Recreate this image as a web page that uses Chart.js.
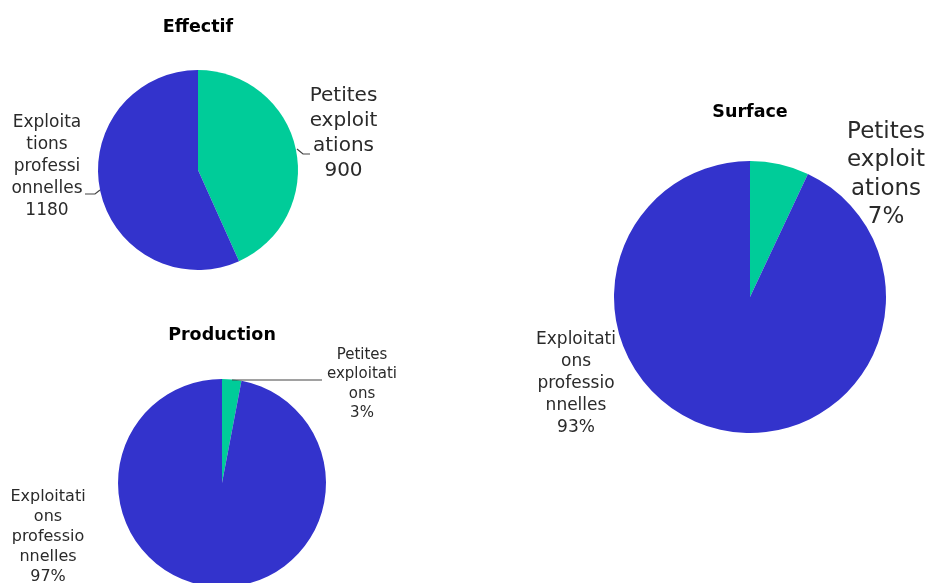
<!DOCTYPE html>
<html>
<head>
<meta charset="utf-8">
<script src="https://cdn.jsdelivr.net/npm/chart.js@4"></script>
<style>
  html, body { margin: 0; padding: 0; background: #fff; overflow: hidden; }
  #wrap { position: relative; width: 930px; height: 583px; overflow: hidden; }
  .box { position: absolute; left: 0; top: 0; width: 930px; }
</style>
</head>
<body>
<div id="wrap">
  <div class="box" style="height:583px"><canvas id="c1"></canvas></div>
  <div class="box" style="height:583px"><canvas id="c2"></canvas></div>
  <div class="box" style="height:620px"><canvas id="c3"></canvas></div>
</div>
<script>
// ---- data ----
const categories = ['Petites exploitations', 'Exploitations professionnelles'];
const effectifValues = [900, 1180];
const surfaceValues = [7, 93];
const productionValues = [3, 97];
const chartTitles = ['Effectif', 'Surface', 'Production'];
const effectifLabelLines = [['Petites', 'exploit', 'ations', '900'], ['Exploita', 'tions', 'professi', 'onnelles', '1180']];
const surfaceLabelLines = [['Petites', 'exploit', 'ations', '7%'], ['Exploitati', 'ons', 'professio', 'nnelles', '93%']];
const productionLabelLines = [['Petites', 'exploitati', 'ons', '3%'], ['Exploitati', 'ons', 'professio', 'nnelles', '97%']];
const colors = ['rgb(0,204,153)', 'rgb(51,51,204)'];

const FONT = "'DejaVu Sans', Verdana, sans-serif";

// label plugin: draws wrapped labels and leader lines relative to pie centre
const pieLabels = {
  id: 'pieLabels',
  afterDatasetsDraw(chart, args, opts) {
    const arc = chart.getDatasetMeta(0).data[0];
    if (!arc) return;
    const cx = arc.x, cy = arc.y;
    const ctx = chart.ctx;
    ctx.save();
    (opts.items || []).forEach(it => {
      if (it.leader) {
        ctx.beginPath();
        ctx.strokeStyle = '#444';
        ctx.lineWidth = 1.2;
        it.leader.forEach((p, i) => {
          if (i === 0) ctx.moveTo(cx + p[0], cy + p[1]); else ctx.lineTo(cx + p[0], cy + p[1]);
        });
        ctx.stroke();
      }
      ctx.fillStyle = '#2a2a2a';
      ctx.font = it.size + 'px ' + FONT;
      ctx.textAlign = 'center';
      ctx.textBaseline = 'middle';
      it.lines.forEach((ln, i) => {
        ctx.fillText(ln, cx + it.dx, cy + it.dy + i * it.spacing);
      });
    });
    ctx.restore();
  }
};

function makePie(id, title, values, labelLines, layoutPad, titlePad, items) {
  return new Chart(document.getElementById(id), {
    type: 'pie',
    data: {
      labels: categories,
      datasets: [{
        data: values,
        backgroundColor: colors,
        borderWidth: 0,
        hoverBorderWidth: 0,
        offset: 0,
        hoverOffset: 0
      }]
    },
    options: {
      responsive: true,
      maintainAspectRatio: false,
      animation: false,
      events: [],
      layout: { padding: layoutPad },
      plugins: {
        legend: { display: false },
        tooltip: { enabled: false },
        title: {
          display: true,
          text: title,
          color: '#000',
          font: { family: FONT, size: 17.5, weight: 'bold', lineHeight: 1.2 },
          padding: titlePad
        },
        pieLabels: { items: items.map((it, k) => Object.assign({ lines: labelLines[k] }, it)) }
      }
    },
    plugins: [pieLabels]
  });
}

// Effectif: centre (198,170), r 100
makePie('c1', chartTitles[0], effectifValues, effectifLabelLines,
  { left: 98, right: 632, top: 0, bottom: 313 },
  { top: 16.5, bottom: 32.5 },
  [
    { dx: 145.5, dy: -74, spacing: 25, size: 20, leader: [[99, -21], [105, -16], [112, -16]] },
    { dx: -151, dy: -47, spacing: 22, size: 17, leader: [[-113, 24], [-103, 24], [-98, 20]] }
  ]);

// Surface: centre (750,297), r 136
makePie('c2', chartTitles[1], surfaceValues, surfaceLabelLines,
  { left: 614, right: 44, top: 0, bottom: 150 },
  { top: 101.5, bottom: 38.5 },
  [
    { dx: 136, dy: -165, spacing: 28.5, size: 23 },
    { dx: -174, dy: 43, spacing: 22, size: 17 }
  ]);

// Production: centre (222,483), r 104
makePie('c3', chartTitles[2], productionValues, productionLabelLines,
  { left: 118, right: 604, top: 0, bottom: 33 },
  { top: 324.5, bottom: 33.5 },
  [
    { dx: 140, dy: -128, spacing: 19.5, size: 15, leader: [[10, -103], [100, -103]] },
    { dx: -174, dy: 14, spacing: 20, size: 16 }
  ]);
</script>
</body>
</html>
